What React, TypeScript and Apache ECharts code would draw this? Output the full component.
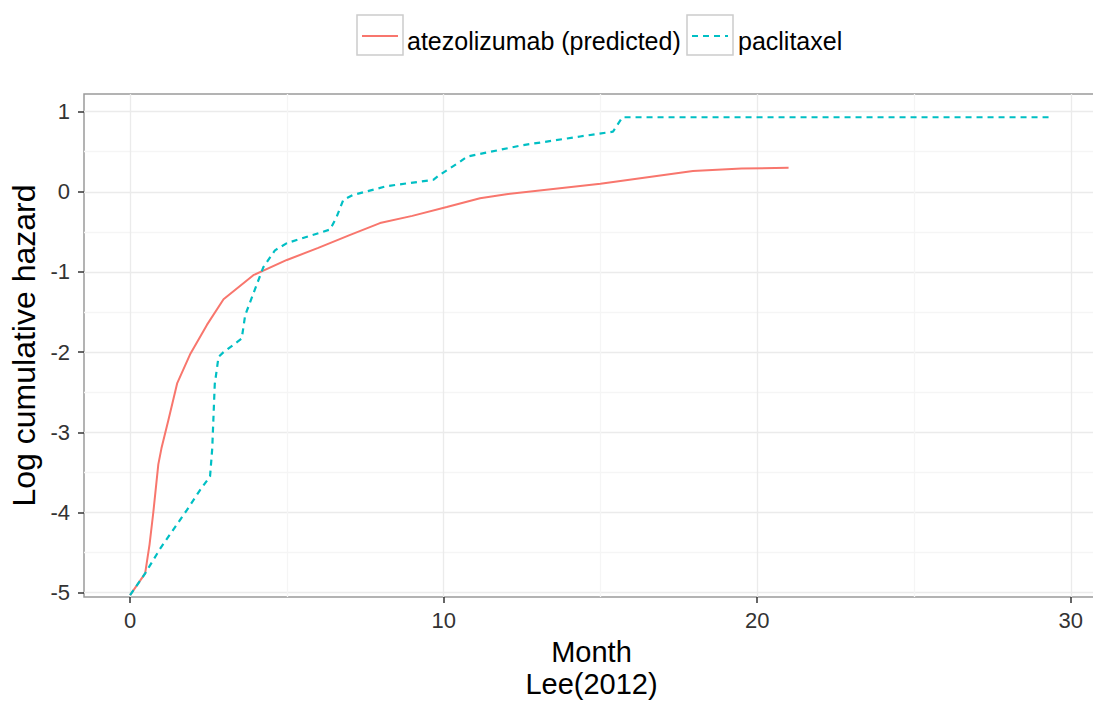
import React, { useEffect, useRef } from "react";
import * as echarts from "echarts";

const atezoMonth = [0, 0.48, 0.62, 0.74, 0.9, 1.0, 1.22, 1.5, 1.91, 2.45, 2.98, 3.93, 5.0, 6.0, 7.0, 7.97, 9.0, 10.1, 11.16, 12.0, 15.0, 17.95, 19.5, 21.0];
const atezoLogH = [-5.03, -4.76, -4.4, -4.0, -3.4, -3.2, -2.85, -2.39, -2.03, -1.66, -1.34, -1.04, -0.85, -0.7, -0.54, -0.39, -0.3, -0.19, -0.08, -0.03, 0.1, 0.26, 0.29, 0.3];

const paclMonth = [0, 0.48, 0.96, 1.81, 2.23, 2.55, 2.62, 2.7, 2.82, 2.98, 3.56, 3.67, 3.93, 4.25, 4.62, 5.0, 6.38, 6.59, 6.8, 7.1, 8.18, 9.67, 9.87, 10.5, 10.75, 12.5, 14.35, 15.4, 15.7, 29.43];
const paclLogH = [-5.03, -4.76, -4.45, -3.97, -3.72, -3.55, -3.2, -2.4, -2.06, -2.0, -1.83, -1.54, -1.27, -0.94, -0.73, -0.64, -0.47, -0.31, -0.1, -0.04, 0.07, 0.15, 0.21, 0.37, 0.44, 0.58, 0.69, 0.75, 0.93, 0.93];

const xTicks = [0, 10, 20, 30];
const yTicks = [-5, -4, -3, -2, -1, 0, 1];
const seriesNames = ["atezolizumab (predicted)", "paclitaxel"];
const seriesColors = ["#F8766D", "#00BFC4"];
const xTitle = "Month\nLee(2012)";
const yTitle = "Log cumulative hazard";

const FONT = "'Liberation Sans', Arial, Helvetica, sans-serif";

export default function App() {
  const ref = useRef<HTMLDivElement>(null);
  useEffect(() => {
    const chart = echarts.init(ref.current as HTMLDivElement, null, { renderer: "svg" });
    const zip = (xs: number[], ys: number[]) => xs.map((x, i) => [x, ys[i]]);
    chart.setOption({
      animation: false,
      backgroundColor: "#ffffff",
      textStyle: { fontFamily: FONT },
      grid: {
        left: 84,
        right: 11,
        top: 94,
        bottom: 107,
        containLabel: false,
        outerBoundsMode: "none",
        show: true,
        borderColor: "#9a9a9a",
        borderWidth: 1.5,
        backgroundColor: "#ffffff",
      },
      xAxis: {
        type: "value",
        min: -1.47,
        max: 30.9,
        splitNumber: 3,
        axisLine: { show: false, onZero: false },
        axisTick: { show: true, length: 6, customValues: xTicks, lineStyle: { color: "#333333", width: 1.5 } },
        axisLabel: {
          customValues: xTicks,
          margin: 12,
          fontSize: 22,
          color: "#333333",
          fontFamily: FONT,
        },
        splitLine: { show: true, lineStyle: { color: "#ebebeb", width: 1.3 } },
        minorTick: { show: false, splitNumber: 2 },
        minorSplitLine: { show: true, lineStyle: { color: "#f5f5f5", width: 1.3 } },
        name: xTitle,
        nameLocation: "middle",
        nameGap: 38,
        nameTextStyle: { fontSize: 29, color: "#000000", lineHeight: 32, fontFamily: FONT, align: "center" },
      },
      yAxis: {
        type: "value",
        min: -5.054,
        max: 1.22,
        splitNumber: 6,
        axisLine: { show: false, onZero: false },
        axisTick: { show: true, length: 6, customValues: yTicks, lineStyle: { color: "#333333", width: 1.5 } },
        axisLabel: {
          customValues: yTicks,
          margin: 14,
          fontSize: 22,
          color: "#333333",
          fontFamily: FONT,
        },
        splitLine: { show: true, lineStyle: { color: "#ebebeb", width: 1.3 } },
        minorTick: { show: false, splitNumber: 2 },
        minorSplitLine: { show: true, lineStyle: { color: "#f5f5f5", width: 1.3 } },
        name: yTitle,
        nameLocation: "middle",
        nameGap: 40,
        nameTextStyle: { fontSize: 32, color: "#000000", fontFamily: FONT },
      },
      series: [
        {
          name: seriesNames[0],
          type: "line",
          data: zip(atezoMonth, atezoLogH),
          showSymbol: false,
          symbol: "none",
          lineStyle: { color: seriesColors[0], width: 2 },
          itemStyle: { color: seriesColors[0] },
          z: 3,
        },
        {
          name: seriesNames[1],
          type: "line",
          data: zip(paclMonth, paclLogH),
          showSymbol: false,
          symbol: "none",
          lineStyle: { color: seriesColors[1], width: 2.2, type: [6, 5] },
          itemStyle: { color: seriesColors[1] },
          z: 4,
        },
      ],
      graphic: [
        {
          type: "rect",
          shape: { x: 357, y: 15, width: 46, height: 40 },
          style: { fill: "#ffffff", stroke: "#cccccc", lineWidth: 1.5 },
        },
        {
          type: "line",
          shape: { x1: 362, y1: 36, x2: 398, y2: 36 },
          style: { stroke: seriesColors[0], lineWidth: 2 },
        },
        {
          type: "text",
          x: 407,
          y: 41,
          style: {
            text: seriesNames[0],
            fill: "#000000",
            fontSize: 25,
            fontFamily: FONT,
            textVerticalAlign: "middle",
            verticalAlign: "middle",
          },
        },
        {
          type: "rect",
          shape: { x: 687, y: 15, width: 46, height: 40 },
          style: { fill: "#ffffff", stroke: "#cccccc", lineWidth: 1.5 },
        },
        {
          type: "line",
          shape: { x1: 692, y1: 36, x2: 728, y2: 36 },
          style: { stroke: seriesColors[1], lineWidth: 2.2, lineDash: [6, 5] },
        },
        {
          type: "text",
          x: 738,
          y: 41,
          style: {
            text: seriesNames[1],
            fill: "#000000",
            fontSize: 25,
            fontFamily: FONT,
            textVerticalAlign: "middle",
            verticalAlign: "middle",
          },
        },
      ],
    });
    return () => chart.dispose();
  }, []);
  return (
    <div
      style={{ position: "absolute", left: 0, top: 0, width: 1093, height: 704, overflow: "hidden", background: "#ffffff" }}
    >
      <div ref={ref} style={{ width: 1110, height: 704 }} />
    </div>
  );
}
